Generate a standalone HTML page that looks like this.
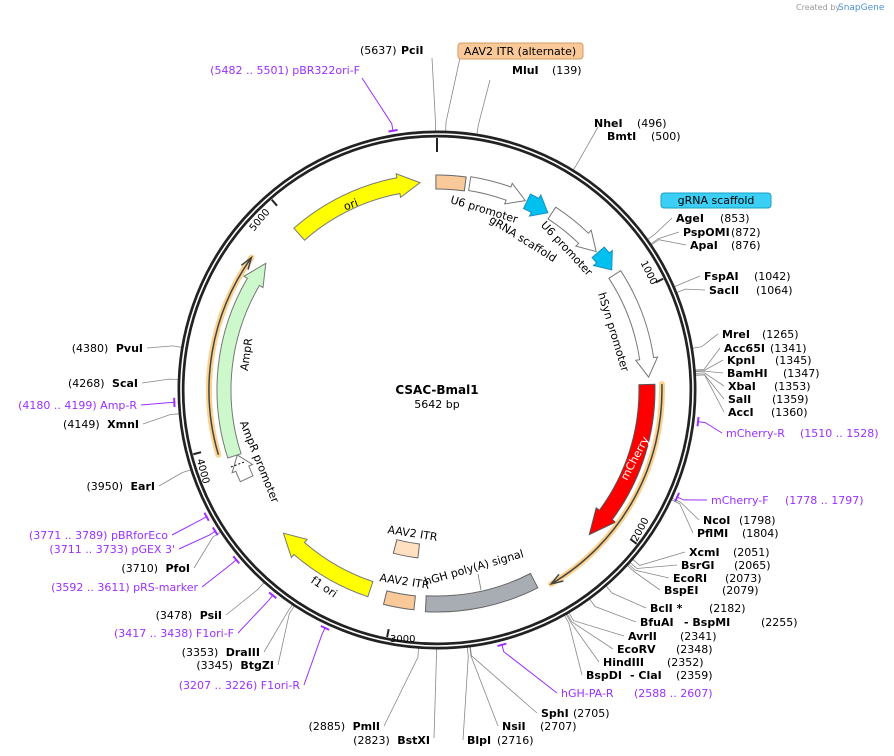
<!DOCTYPE html>
<html><head><meta charset="utf-8"><style>
html,body{margin:0;padding:0;background:#fff;width:894px;height:756px;overflow:hidden}
svg{display:block;font-family:"DejaVu Sans","Liberation Sans",sans-serif;font-size:11px}
.b{font-weight:bold}
.p{fill:#9b30ff}
</style></head><body>
<svg id="s" width="894" height="756" viewBox="0 0 894 756" xmlns="http://www.w3.org/2000/svg">
<g id="lines" stroke="#888" stroke-width="0.8" fill="none"></g>
<circle cx="437" cy="390" r="256" fill="none" stroke="#222" stroke-width="7"/>
<circle cx="437" cy="390" r="256" fill="none" stroke="#fff" stroke-width="1.6"/>
<g id="feat"></g>
<text x="796" y="10" font-size="8" fill="#999">Created by</text>
<text x="838" y="10" font-size="9" fill="#4a90d9">SnapGene</text>

<text x="437" y="394" text-anchor="middle" class="b" font-size="12">CSAC-Bmal1</text>
<text x="437" y="408" text-anchor="middle">5642 bp</text>

<text transform="translate(483,213) rotate(17)" text-anchor="middle">U6 promoter</text>
<text transform="translate(521,242) rotate(32)" text-anchor="middle">gRNA scaffold</text>
<text transform="translate(564,251) rotate(47)" text-anchor="middle">U6 promoter</text>
<text transform="translate(610,333) rotate(73)" text-anchor="middle">hSyn promoter</text>
<text transform="translate(638,460) rotate(-62)" text-anchor="middle" fill="#fff">mCherry</text>
<text transform="translate(352,208) rotate(-20)" text-anchor="middle">ori</text>
<text transform="translate(250,355) rotate(-82)" text-anchor="middle">AmpR</text>
<text transform="translate(256,463) rotate(68)" text-anchor="middle">AmpR promoter</text>
<text transform="translate(322,590) rotate(34)" text-anchor="middle">f1 ori</text>
<text transform="translate(475,571) rotate(-16)" text-anchor="middle">hGH poly(A) signal</text>
<line x1="478" y1="574" x2="481" y2="590" stroke="#777" stroke-width="0.8"/>
<text transform="translate(412,537) rotate(9)" text-anchor="middle">AAV2 ITR</text>
<text transform="translate(404,585) rotate(9)" text-anchor="middle">AAV2 ITR</text>
<text transform="translate(646,274) rotate(64)" text-anchor="middle" font-size="10">1000</text>
<text transform="translate(643,531) rotate(-62)" text-anchor="middle" font-size="10">2000</text>
<text x="390" y="642" font-size="10">3000</text>
<text transform="translate(200,472) rotate(75)" text-anchor="middle" font-size="10">4000</text>
<text transform="translate(262,222) rotate(-50)" text-anchor="middle" font-size="10">5000</text>

<rect x="458" y="43" width="125" height="16" rx="3" fill="#f9c99a" stroke="#d49a63"/>
<text x="520" y="55" text-anchor="middle">AAV2 ITR (alternate)</text>
<rect x="661" y="193" width="110" height="15" rx="3" fill="#3ccff5" stroke="#1aa0c8"/>
<text x="716" y="204" text-anchor="middle">gRNA scaffold</text>

<g>
<text x="360" y="54">(5637)</text><text x="401" y="54" class="b">PciI</text>
<text x="512" y="74" class="b">MluI</text><text x="552" y="74">(139)</text>
<text x="594" y="127" class="b">NheI</text><text x="637" y="127">(496)</text>
<text x="607" y="140" class="b">BmtI</text><text x="651" y="140">(500)</text>
<text x="676" y="222" class="b">AgeI</text><text x="720" y="222">(853)</text>
<text x="683" y="236" class="b">PspOMI</text><text x="731" y="236">(872)</text>
<text x="690" y="249" class="b">ApaI</text><text x="731" y="249">(876)</text>
<text x="704" y="280" class="b">FspAI</text><text x="754" y="280">(1042)</text>
<text x="709" y="294" class="b">SacII</text><text x="756" y="294">(1064)</text>
<text x="722" y="338" class="b">MreI</text><text x="762" y="338">(1265)</text>
<text x="724" y="352" class="b">Acc65I</text><text x="770" y="352">(1341)</text>
<text x="727" y="364" class="b">KpnI</text><text x="775" y="364">(1345)</text>
<text x="727" y="377" class="b">BamHI</text><text x="783" y="377">(1347)</text>
<text x="728" y="390" class="b">XbaI</text><text x="774" y="390">(1353)</text>
<text x="728" y="403" class="b">SalI</text><text x="772" y="403">(1359)</text>
<text x="728" y="416" class="b">AccI</text><text x="771" y="416">(1360)</text>
<text x="726" y="437" class="p">mCherry-R</text><text x="800" y="437" class="p">(1510 .. 1528)</text>
<text x="711" y="504" class="p">mCherry-F</text><text x="785" y="504" class="p">(1778 .. 1797)</text>
<text x="703" y="524" class="b">NcoI</text><text x="739" y="524">(1798)</text>
<text x="697" y="537" class="b">PflMI</text><text x="742" y="537">(1804)</text>
<text x="689" y="556" class="b">XcmI</text><text x="733" y="556">(2051)</text>
<text x="681" y="569" class="b">BsrGI</text><text x="734" y="569">(2065)</text>
<text x="673" y="582" class="b">EcoRI</text><text x="725" y="582">(2073)</text>
<text x="664" y="594" class="b">BspEI</text><text x="722" y="594">(2079)</text>
<text x="650" y="612" class="b">BclI *</text><text x="709" y="612">(2182)</text>
<text x="640" y="626" class="b">BfuAI</text><text x="684" y="626" class="b">- BspMI</text><text x="761" y="626">(2255)</text>
<text x="628" y="640" class="b">AvrII</text><text x="680" y="640">(2341)</text>
<text x="617" y="653" class="b">EcoRV</text><text x="676" y="653">(2348)</text>
<text x="603" y="666" class="b">HindIII</text><text x="667" y="666">(2352)</text>
<text x="586" y="679" class="b">BspDI</text><text x="630" y="679" class="b">- ClaI</text><text x="676" y="679">(2359)</text>
<text x="561" y="697" class="p">hGH-PA-R</text><text x="634" y="697" class="p">(2588 .. 2607)</text>
<text x="541" y="717" class="b">SphI</text><text x="573" y="717">(2705)</text>
<text x="502" y="730" class="b">NsiI</text><text x="540" y="730">(2707)</text>
<text x="467" y="744" class="b">BlpI</text><text x="497" y="744">(2716)</text>
</g>
<g text-anchor="end">
<text x="380" y="730">(2885) <tspan class="b" dx="4">PmlI</tspan></text>
<text x="430" y="744">(2823) <tspan class="b" dx="4">BstXI</tspan></text>
<text x="300" y="689" class="p">(3207 .. 3226)  F1ori-R</text>
<text x="274" y="669">(3345) <tspan class="b" dx="4">BtgZI</tspan></text>
<text x="260" y="656">(3353) <tspan class="b" dx="4">DraIII</tspan></text>
<text x="234" y="637" class="p">(3417 .. 3438)  F1ori-F</text>
<text x="222" y="619">(3478) <tspan class="b" dx="4">PsiI</tspan></text>
<text x="198" y="591" class="p">(3592 .. 3611)  pRS-marker</text>
<text x="190" y="572">(3710) <tspan class="b" dx="4">PfoI</tspan></text>
<text x="175" y="553" class="p">(3711 .. 3733)  pGEX 3'</text>
<text x="168" y="539" class="p">(3771 .. 3789)  pBRforEco</text>
<text x="155" y="490">(3950) <tspan class="b" dx="4">EarI</tspan></text>
<text x="139" y="428">(4149) <tspan class="b" dx="4">XmnI</tspan></text>
<text x="137" y="409" class="p">(4180 .. 4199)  Amp-R</text>
<text x="138" y="387">(4268) <tspan class="b" dx="4">ScaI</tspan></text>
<text x="143" y="352">(4380) <tspan class="b" dx="4">PvuI</tspan></text>
<text x="360" y="74" class="p">(5482 .. 5501)  pBR322ori-F</text>
</g>
</svg>
<script>
var cx=437,cy=390,N=5642,NS="http://www.w3.org/2000/svg";
function P(t,r){var a=t*Math.PI/180;return [cx+r*Math.sin(a),cy-r*Math.cos(a)];}
function f(p){return p[0].toFixed(1)+","+p[1].toFixed(1);}
function add(g,tag,at){var e=document.createElementNS(NS,tag);for(var k in at)e.setAttribute(k,at[k]);document.getElementById(g).appendChild(e);return e;}
function ang(pos){return pos/N*360;}
function arrow(t1,t2,r,w,head,fill,stroke){
 var dir=t2>t1?1:-1,ri=r-w/2,ro=r+w/2,hb=t2-dir*head,hi=r-w/2-4,ho=r+w/2+4;
 var sw=dir>0?1:0;
 var d="M"+f(P(t1,ro))+" A"+ro+","+ro+" 0 0,"+sw+" "+f(P(hb,ro))+" L"+f(P(hb,ho))+" L"+f(P(t2,r))+" L"+f(P(hb,hi))+" L"+f(P(hb,ri))+" A"+ri+","+ri+" 0 0,"+(1-sw)+" "+f(P(t1,ri))+"Z";
 add("feat","path",{d:d,fill:fill,stroke:stroke||"#777","stroke-width":1});
}
function box(t1,t2,r,w,fill,stroke){
 var ri=r-w/2,ro=r+w/2;
 var d="M"+f(P(t1,ro))+" A"+ro+","+ro+" 0 0,1 "+f(P(t2,ro))+" L"+f(P(t2,ri))+" A"+ri+","+ri+" 0 0,0 "+f(P(t1,ri))+"Z";
 add("feat","path",{d:d,fill:fill,stroke:stroke||"#666","stroke-width":1});
}
function hl(t1,t2,r){
 var dir=t2>t1?1:-1,sw=dir>0?1:0,hb=t2-dir*3;
 var d="M"+f(P(t1,r))+" A"+r+","+r+" 0 0,"+sw+" "+f(P(t2,r));
 add("feat","path",{d:d,fill:"none",stroke:"#fbd28e","stroke-width":6,"stroke-linecap":"round"});
 add("feat","path",{d:d,fill:"none",stroke:"#444","stroke-width":1.5});
 add("feat","path",{d:"M"+f(P(hb,r-4))+" L"+f(P(t2,r))+" L"+f(P(hb,r+4)),fill:"none",stroke:"#444","stroke-width":1.5});
}
arrow(-41.5,-4.7,208,16,6,"#ffff00");
box(-0.3,7.8,208,14,"#f9c99a");
arrow(9,25,209,14,5,"#fff");
arrow(25.5,32,209,16,4,"#00c0f0","#1a90c0");
arrow(33,49,211,14,5,"#fff");
arrow(49.5,55.5,212,16,4,"#00c0f0","#1a90c0");
arrow(57,86.5,212,14,5,"#fff");
arrow(88.5,133.5,210,16,7,"#ff0000","#555");
hl(88.5,149.5,225);
box(153,183,214,16,"#a7adb3");
box(186,194,214,14,"#f9c99a");
box(186.5,195,162,14,"#ffe0c0");
arrow(198.5,227,210,16,6,"#ffff00");
arrow(245,252,210,14,4,"#fff");
arrow(252,306.5,213,14,6,"#ccf8cc");
hl(253.5,305.5,228);
add("feat","path",{d:"M"+f(P(249.5,206))+" L"+f(P(249.5,220)),stroke:"#000","stroke-dasharray":"2,2",fill:"none"});
[0,1000,2000,3000,4000,5000].forEach(function(p){var t=ang(p);var L=p?8:14;
 add("feat","line",{x1:P(t,252)[0],y1:P(t,252)[1],x2:P(t,252-L)[0],y2:P(t,252-L)[1],stroke:"#222","stroke-width":2});});
var S=[[5637,432,58],[30,460,58],[139,490,80],[498,598,127],[853,672,218],[872,679,232],[876,686,245],[1042,700,276],[1064,705,290],
[1265,718,334],[1341,720,348],[1345,723,360],[1347,723,373],[1353,724,386],[1359,724,399],[1360,724,412],
[1798,699,520],[1804,693,533],[2051,685,552],[2065,677,565],[2073,669,578],[2079,660,590],[2182,646,608],[2255,636,622],
[2341,624,636],[2348,613,649],[2352,599,662],[2359,582,675],[2705,537,713],[2707,498,726],[2716,463,740],
[2885,384,726],[2823,434,738],[3345,278,665],[3353,264,652],[3478,226,615],[3710,194,568],[3950,159,486],[4149,143,424],[4268,142,383],[4380,147,348]];
S.forEach(function(s){var t=ang(s[0]);var a=P(t,258),b=P(t,268);
 add("lines","polyline",{points:f(a)+" "+f(b)+" "+s[1]+","+s[2]});});
var PR=[[5491,362,78],[1519,722,433],[1787,707,500],[2597,557,693],[3216,304,685],[3427,238,633],[3601,202,587],[3722,179,549],[3780,172,535],[4189,141,405]];
PR.forEach(function(s){var t=ang(s[0]);var a=P(t,262),b=P(t,270);
 add("feat","polyline",{points:f(a)+" "+f(b)+" "+s[1]+","+s[2],stroke:"#9b30ff","stroke-width":1,fill:"none"});
 var c=P(t-1,263),d=P(t+1,263);add("feat","line",{x1:c[0],y1:c[1],x2:d[0],y2:d[1],stroke:"#9b30ff","stroke-width":2});});
</script>
</body></html>
